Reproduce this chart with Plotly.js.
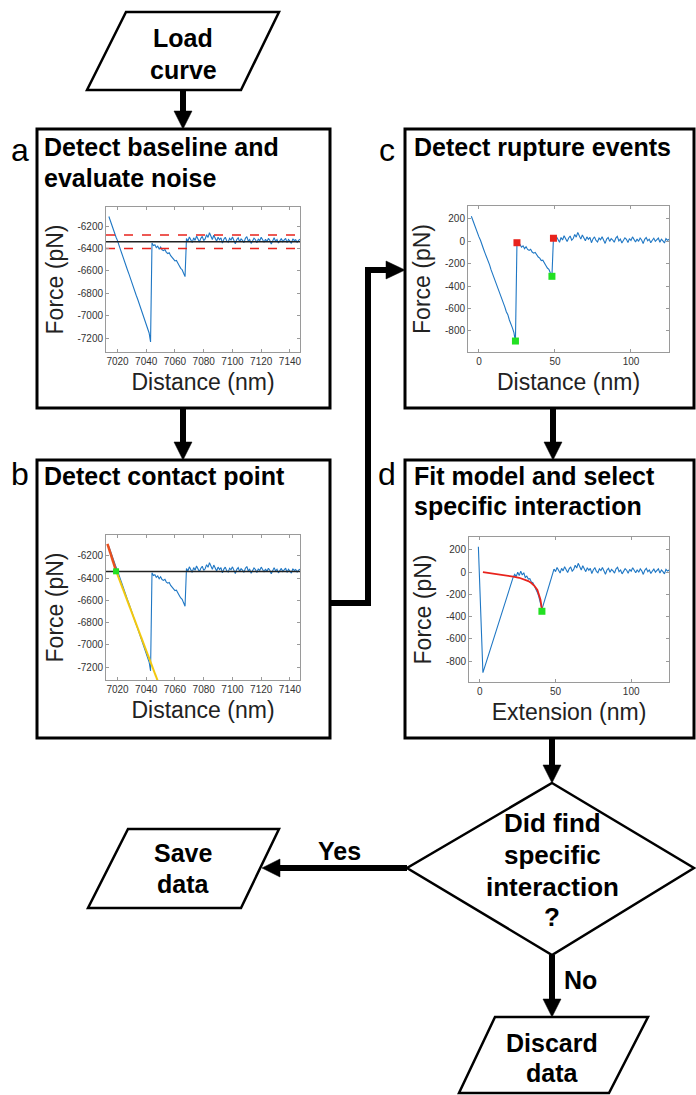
<!DOCTYPE html>
<html>
<head>
<meta charset="utf-8">
<script src="https://cdn.plot.ly/plotly-3.0.1.min.js"></script>
<style>html,body{margin:0;padding:0;background:#fff;}#chart{width:696px;height:1095px;}</style>
</head>
<body>
<div id="chart"></div>
<script>
// ---------------- DATA ----------------
// Retraction curve, force relative to baseline (pN), 1 nm steps starting at -5 nm from contact point
const curveStart = -5;
const rampForce = [225,185,158,112,82,40,10,-38,-68,-105,-138,-182,-210,-255,-290,-332,-360,-408,-436,-478,-512,-552,-585,-628,-655,-702,-730,-772,-815,-895];
const midForce = [-12,-35,-28,-52,-40,-65,-48,-72,-80,-70,-95,-105,-98,-125,-140,-150,-172,-168,-200,-215,-238,-250,-282,-312];
const tailForce = [28,5,42,18,-8,35,12,50,22,-2,
                   30,48,10,25,62,38,80,45,20,58,
                   30,5,40,18,35,-12,22,40,8,-5,
                   30,15,42,10,-18,20,35,0,25,12,
                   -8,30,45,5,20,-15,10,32,18,-10,
                   25,8,40,15,-5,22,0,30,12,-20,
                   18,35,5,20,-12,10,28,0,15,30,
                   -8,20,5,-15,25,10,18,-5,12,22];
const tailStart = 49;

// raw-coordinate constants (panels a, b)
const contactDistance = 7019;   // nm
const baselineForce = -6340;    // pN
const noiseUpper = -6280;
const noiseLower = -6400;

// panel b: contact point fits
const preContactX = [7013, 7019];
const preContactY = [-6090, -6335];
const postContactX = [7019, 7049];
const postContactY = [-6335, -7360];
const contactPointX = [7019];
const contactPointY = [-6338];

// panel c: rupture events
const ruptureTopX = [25, 49];
const ruptureTopY = [-12, 28];
const ruptureBottomX = [24, 48];
const ruptureBottomY = [-890, -312];

// panel d: force vs extension
const extHeadX = [-1, 2, 22];
const extHeadY = [230, -905, -45];
const extMidStart = 22;
const extMidForce = [-45,-20,-40,0,-30,10,-25,-5,-48,-35,-62,-58,-88,-95,-125,-148,-182,-222,-272,-335];
const extJumpX = [41, 49];
const extJumpY = [-335, 28];
const fitX = [2, 7, 12, 17, 22, 26, 29, 32, 34, 36, 38, 39, 40, 41];
const fitY = [0, -9, -18, -28, -40, -50, -62, -80, -98, -122, -160, -195, -245, -335];
const selectedX = [41];
const selectedY = [-352];

// ticks
const distTicks = [7020, 7040, 7060, 7080, 7100, 7120, 7140];
const distTickText = ['7020','7040','7060','7080','7100','7120','7140'];
const absForceTicks = [-6200, -6400, -6600, -6800, -7000, -7200];
const absForceTickText = ['-6200','-6400','-6600','-6800','-7000','-7200'];
const relDistTicks = [0, 50, 100];
const relDistTickText = ['0','50','100'];
const relForceTicks = [200, 0, -200, -400, -600, -800];
const relForceTickText = ['200','0','-200','-400','-600','-800'];

// ---------------- HELPERS ----------------
const W = 696, H = 1095;
const px = x => x / W;
const py = y => 1 - y / H;
const P = (x, y) => px(x).toFixed(5) + ',' + py(y).toFixed(5);
const FONT = 'Liberation Sans, Arial, sans-serif';
const BLUE = '#1f77c4';

const relCurve = rampForce.concat(midForce, tailForce);
const absCurve = relCurve.map(v => v + baselineForce);

const shapes = [];
const annotations = [];

function rectBox(x0, y0, x1, y1) {
  shapes.push({type:'rect', xref:'paper', yref:'paper', x0:px(x0), x1:px(x1), y0:py(y1), y1:py(y0),
    line:{color:'#000', width:3}, fillcolor:'rgba(0,0,0,0)', layer:'above'});
}
function poly(pts, width) {
  shapes.push({type:'path', xref:'paper', yref:'paper',
    path:'M' + pts.map(p => P(p[0], p[1])).join(' L') + ' Z',
    line:{color:'#000', width:width}, fillcolor:'#fff', layer:'below'});
}
function polyline(pts, width) {
  shapes.push({type:'path', xref:'paper', yref:'paper',
    path:'M' + pts.map(p => P(p[0], p[1])).join(' L'),
    line:{color:'#000', width:width}, fillcolor:'rgba(0,0,0,0)', layer:'above'});
}
function tri(pts) {
  shapes.push({type:'path', xref:'paper', yref:'paper',
    path:'M' + pts.map(p => P(p[0], p[1])).join(' L') + ' Z',
    line:{color:'#000', width:0.5}, fillcolor:'#000', layer:'above'});
}
const HL = 18, HW = 9;
function arrowDown(x, y0, y1) {
  polyline([[x, y0], [x, y1 - HL + 1]], 6);
  tri([[x - HW, y1 - HL], [x + HW, y1 - HL], [x, y1]]);
}
function text(t, x, y, size, bold, anchor) {
  annotations.push({xref:'paper', yref:'paper', x:px(x), y:py(y), text: bold ? '<b>' + t + '</b>' : t,
    showarrow:false, xanchor: anchor || 'center', yanchor:'middle',
    font:{family:FONT, size:size, color:'#000'}});
}

// ---------------- FLOWCHART ----------------
poly([[126,12],[279,12],[241,90],[87,90]], 2.5);
text('Load', 183, 38, 25, true);
text('curve', 183, 70, 25, true);
arrowDown(183, 90, 129);

rectBox(37, 129, 330, 408);
rectBox(37, 460, 330, 738);
rectBox(405, 129, 694, 408);
rectBox(405, 460, 694, 738);

arrowDown(183, 408, 460);
arrowDown(553, 408, 460);

// b -> c connector
polyline([[330, 603], [368, 603], [368, 270], [387, 270]], 6);
tri([[386, 261], [386, 279], [405, 270]]);

text('a', 20, 150, 32, false);
text('b', 20, 474, 32, false);
text('c', 387, 150, 32, false);
text('d', 387, 474, 32, false);

text('Detect baseline and', 42, 147, 25, true, 'left');
text('evaluate noise', 42, 178, 25, true, 'left');
text('Detect contact point', 42, 476, 25, true, 'left');
text('Detect rupture events', 412, 147, 25, true, 'left');
text('Fit model and select', 412, 476, 25, true, 'left');
text('specific interaction', 412, 506, 25, true, 'left');

arrowDown(552, 738, 783);
poly([[552,783],[694,868],[552,955],[407,868]], 2.5);
text('Did find', 552, 823, 26, true);
text('specific', 552, 855, 26, true);
text('interaction', 552, 887, 26, true);
text('?', 552, 917, 26, true);

// Yes arrow (left)
polyline([[407, 868], [262 + HL - 1, 868]], 6);
tri([[262 + HL, 868 - HW], [262 + HL, 868 + HW], [262, 868]]);
text('Yes', 339, 851, 25, true);
poly([[128,829],[279,829],[241,908],[88,908]], 2.5);
text('Save', 183, 853, 25, true);
text('data', 183, 884, 25, true);

// No arrow (down)
arrowDown(552, 955, 1017);
text('No', 580, 980, 25, true);
poly([[495,1017],[648,1017],[609,1093],[459,1093]], 2.5);
text('Discard', 552, 1043, 25, true);
text('data', 552, 1073, 25, true);

// ---------------- PLOTS ----------------
function axBase(extra) {
  return Object.assign({
    showgrid:false, zeroline:false, showline:true, mirror:'ticks', linecolor:'#9a9a9a', linewidth:1,
    ticks:'inside', ticklen:3, tickwidth:1, tickcolor:'#9a9a9a', fixedrange:true, automargin:false,
    tickfont:{family:FONT, size:10, color:'#333'}
  }, extra);
}
const dom = (a, b, c, d) => ({x:[px(a), px(b)], y:[py(d), py(c)]});
const dA = dom(106, 300, 207, 352);
const dB = dom(106, 300, 535, 680);
const dC = dom(468, 669, 206, 352);
const dD = dom(469, 669, 537, 682);

const xTitle = t => ({text:t, font:{family:FONT, size:23, color:'#222'}, standoff:7});
const yTitle = t => ({text:t, font:{family:FONT, size:23, color:'#222'}, standoff:7});

const layout = {
  width: W, height: H, margin:{l:0, r:0, t:0, b:0},
  paper_bgcolor:'#fff', plot_bgcolor:'#fff', showlegend:false,
  shapes: shapes, annotations: annotations,
  xaxis2: axBase({domain:dA.x, anchor:'y2', range:[7012, 7147], tickvals:distTicks, ticktext:distTickText, title:xTitle('Distance (nm)')}),
  yaxis2: axBase({domain:dA.y, anchor:'x2', range:[-7325, -6030], tickvals:absForceTicks, ticktext:absForceTickText, title:yTitle('Force (pN)')}),
  xaxis3: axBase({domain:dB.x, anchor:'y3', range:[7012, 7147], tickvals:distTicks, ticktext:distTickText, title:xTitle('Distance (nm)')}),
  yaxis3: axBase({domain:dB.y, anchor:'x3', range:[-7317, -6011], tickvals:absForceTicks, ticktext:absForceTickText, title:yTitle('Force (pN)')}),
  xaxis4: axBase({domain:dC.x, anchor:'y4', range:[-7.2, 125], tickvals:relDistTicks, ticktext:relDistTickText, title:xTitle('Distance (nm)')}),
  yaxis4: axBase({domain:dC.y, anchor:'x4', range:[-988, 316], tickvals:relForceTicks, ticktext:relForceTickText, title:yTitle('Force (pN)')}),
  xaxis5: axBase({domain:dD.x, anchor:'y5', range:[-7.2, 125], tickvals:relDistTicks, ticktext:relDistTickText, title:xTitle('Extension (nm)')}),
  yaxis5: axBase({domain:dD.y, anchor:'x5', range:[-989, 317], tickvals:relForceTicks, ticktext:relForceTickText, title:yTitle('Force (pN)')})
};

const blueLine = {color:BLUE, width:1.1};
const hLine = (xa, ya, xr, yv, color, dash) => ({type:'scatter', mode:'lines', xaxis:xa, yaxis:ya,
  x:xr, y:[yv, yv], line:{color:color, width:1.5, dash:dash || 'solid'}, hoverinfo:'skip'});

const traces = [
  // panel a
  {type:'scatter', mode:'lines', xaxis:'x2', yaxis:'y2', x0:contactDistance + curveStart, dx:1, y:absCurve, line:blueLine},
  hLine('x2','y2',[7012,7147], baselineForce, '#222'),
  hLine('x2','y2',[7012,7147], noiseUpper, '#e8231c', 'dash'),
  hLine('x2','y2',[7012,7147], noiseLower, '#e8231c', 'dash'),
  // panel b
  {type:'scatter', mode:'lines', xaxis:'x3', yaxis:'y3', x0:contactDistance + curveStart, dx:1, y:absCurve, line:blueLine},
  hLine('x3','y3',[7012,7147], baselineForce, '#222'),
  {type:'scatter', mode:'lines', xaxis:'x3', yaxis:'y3', x:postContactX, y:postContactY, line:{color:'#f2c80f', width:2}},
  {type:'scatter', mode:'lines', xaxis:'x3', yaxis:'y3', x:preContactX, y:preContactY, line:{color:'#e8501e', width:2.5}},
  {type:'scatter', mode:'markers', xaxis:'x3', yaxis:'y3', x:contactPointX, y:contactPointY, marker:{color:'#22e022', size:6, symbol:'square'}},
  // panel c
  {type:'scatter', mode:'lines', xaxis:'x4', yaxis:'y4', x0:curveStart, dx:1, y:relCurve, line:blueLine},
  {type:'scatter', mode:'markers', xaxis:'x4', yaxis:'y4', x:ruptureTopX, y:ruptureTopY, marker:{color:'#e8231c', size:7, symbol:'square'}},
  {type:'scatter', mode:'markers', xaxis:'x4', yaxis:'y4', x:ruptureBottomX, y:ruptureBottomY, marker:{color:'#22e022', size:7, symbol:'square'}},
  // panel d
  {type:'scatter', mode:'lines', xaxis:'x5', yaxis:'y5', x:extHeadX, y:extHeadY, line:blueLine},
  {type:'scatter', mode:'lines', xaxis:'x5', yaxis:'y5', x0:extMidStart, dx:1, y:extMidForce, line:blueLine},
  {type:'scatter', mode:'lines', xaxis:'x5', yaxis:'y5', x:extJumpX, y:extJumpY, line:blueLine},
  {type:'scatter', mode:'lines', xaxis:'x5', yaxis:'y5', x0:tailStart, dx:1, y:tailForce, line:blueLine},
  {type:'scatter', mode:'lines', xaxis:'x5', yaxis:'y5', x:fitX, y:fitY, line:{color:'#e8231c', width:1.8}},
  {type:'scatter', mode:'markers', xaxis:'x5', yaxis:'y5', x:selectedX, y:selectedY, marker:{color:'#22e022', size:7, symbol:'square'}}
];

Plotly.newPlot('chart', traces, layout, {staticPlot:true, displayModeBar:false});
</script>
</body>
</html>
